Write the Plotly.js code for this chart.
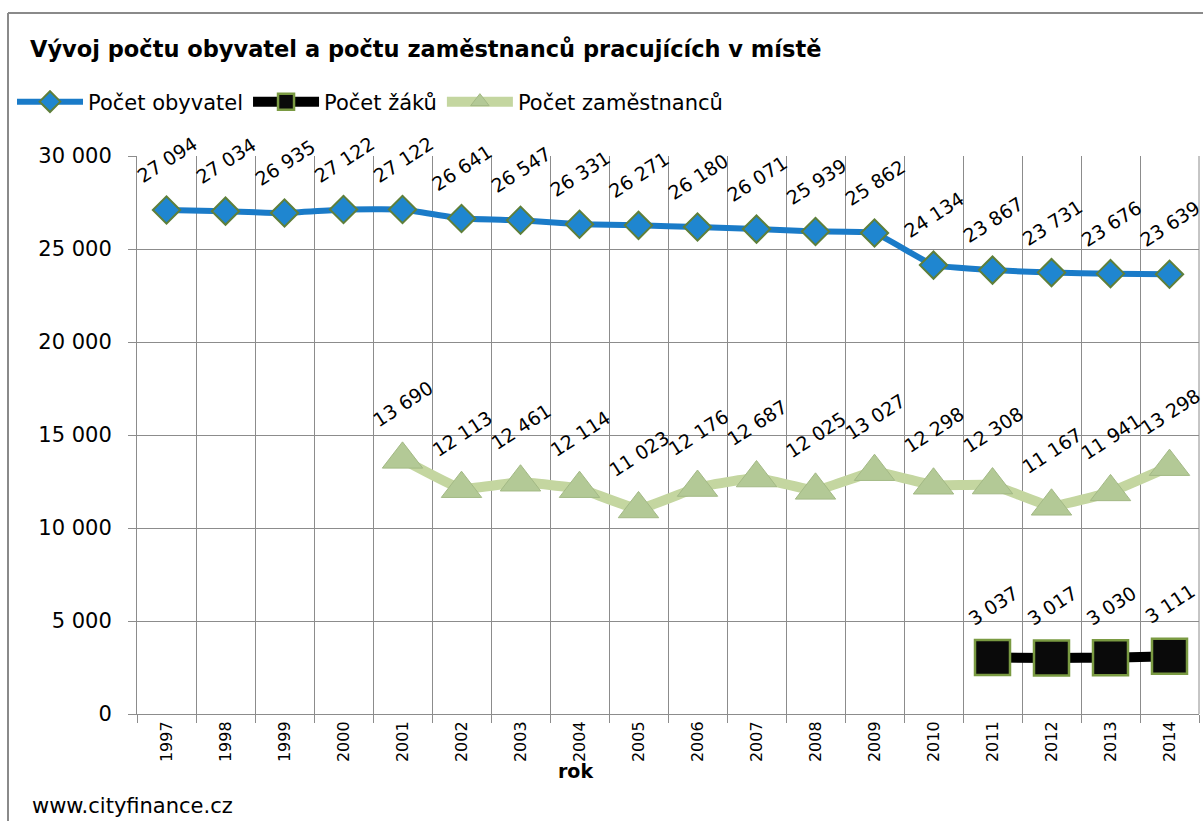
<!DOCTYPE html>
<html>
<head>
<meta charset="utf-8">
<script src="https://cdn.plot.ly/plotly-3.0.1.min.js"></script>
<style>html,body{margin:0;padding:0;background:#fff}#chart{width:1203px;height:821px}</style>
</head>
<body>
<div id="chart"></div>
<script>
const years = ['1997','1998','1999','2000','2001','2002','2003','2004','2005','2006','2007','2008','2009','2010','2011','2012','2013','2014'];
const obyvatel = [27094,27034,26935,27122,27122,26641,26547,26331,26271,26180,26071,25939,25862,24134,23867,23731,23676,23639];
const zaci = [null,null,null,null,null,null,null,null,null,null,null,null,null,null,3037,3017,3030,3111];
const zamestnanci = [null,null,null,null,13690,12113,12461,12114,11023,12176,12687,12025,13027,12298,12308,11167,11941,13298];
const seriesNames = ['Počet obyvatel','Počet žáků','Počet zaměstnanců'];
const chartTitle = 'Vývoj počtu obyvatel a počtu zaměstnanců pracujících v místě';
const xTitle = 'rok';
const sourceText = 'www.cityfinance.cz';

const FONT = '"DejaVu Sans", Lato, sans-serif';
const L = 137, R = 1199, T = 156, B = 714, W = 1203, H = 821;
const pw = R - L, ph = B - T;
const px = x => (x - L) / pw;
const py = y => (B - y) / ph;

function fmt(v){ return String(v).replace(/\B(?=(\d{3})+(?!\d))/g,' '); }

const traces = [
  {x: years, y: obyvatel, name: seriesNames[0], type:'scatter', mode:'lines+markers',
   line:{color:'#1a7bc8', width:6, shape:'spline', smoothing:0.3},
   marker:{symbol:'diamond', size:21, color:'#1f86d0', line:{color:'#5f7f3a', width:2}}},
  {x: years, y: zaci, name: seriesNames[1], type:'scatter', mode:'lines+markers',
   line:{color:'#000000', width:10, shape:'spline', smoothing:0.3},
   marker:{symbol:'square', size:35, color:'#0a0a0a', line:{color:'#7a9a42', width:2.5}}},
  {x: years, y: zamestnanci, name: seriesNames[2], type:'scatter', mode:'lines+markers',
   line:{color:'#c4d6a0', width:10, shape:'spline', smoothing:0.3},
   marker:{symbol:'triangle-up', size:35, color:'#b3c996', line:{color:'#a3b985', width:1}}}
];

const annotations = [];
function addLabels(arr, shift){
  arr.forEach((v,i)=>{
    if(v===null) return;
    annotations.push({x: i, y: v, xref:'x', yref:'y', text: fmt(v), showarrow:false,
      textangle:-33, yshift: shift, xanchor:'center', yanchor:'middle',
      font:{family:FONT, size:19, color:'#000'}});
  });
}
addLabels(obyvatel, 50);
addLabels(zamestnanci, 55);
addLabels(zaci, 52);

annotations.push({xref:'paper', yref:'paper', x: px(575), y: py(771), text:'<b>'+xTitle+'</b>', showarrow:false,
  xanchor:'center', yanchor:'middle', font:{family:FONT, size:19, color:'#000'}});
annotations.push({xref:'paper', yref:'paper', x: px(30), y: py(806), text: sourceText, showarrow:false,
  xanchor:'left', yanchor:'middle', font:{family:FONT, size:21, color:'#000'}});

const layout = {
  width: W, height: H,
  margin:{l:L, r:W-R, t:T, b:H-B, pad:0},
  paper_bgcolor:'#fff', plot_bgcolor:'#fff',
  separators:', ',
  showlegend:true,
  title:{text:'<b>'+chartTitle+'</b>', xref:'container', yref:'container', x:30/W, xanchor:'left', y:1-49/H, yanchor:'middle',
    font:{family:FONT, size:22.5, color:'#000'}},
  legend:{orientation:'h', x: px(12), xanchor:'left', y: py(102), yanchor:'middle', itemwidth:66,
    traceorder:'normal', font:{family:FONT, size:21, color:'#000'}, bgcolor:'rgba(0,0,0,0)', itemclick:false},
  xaxis:{type:'category', tickson:'boundaries', showgrid:true, gridcolor:'#8c8c8c', gridwidth:1,
    ticks:'outside', ticklen:8, tickcolor:'#8c8c8c', tickangle:-90, showline:true, linecolor:'#8c8c8c', linewidth:1,
    tickfont:{family:FONT, size:16, color:'#000'}, range:[-0.5,17.5], fixedrange:true, zeroline:false, mirror:false},
  yaxis:{range:[0,30000], dtick:5000, tick0:0, tickformat:',d', showgrid:true, gridcolor:'#8c8c8c', gridwidth:1,
    ticks:'outside', ticklen:8, tickcolor:'#8c8c8c', showline:true, linecolor:'#8c8c8c', linewidth:1,
    ticklabelstandoff:12,
    tickfont:{family:FONT, size:21, color:'#000'}, zeroline:false, fixedrange:true},
  shapes:[
    {type:'line', xref:'paper', yref:'paper', x0:px(8), x1:px(1210), y0:py(13), y1:py(13), line:{color:'#8a8a8a', width:2}},
    {type:'line', xref:'paper', yref:'paper', x0:px(8), x1:px(8), y0:py(13), y1:py(830), line:{color:'#8a8a8a', width:2}},
    {type:'line', xref:'paper', yref:'paper', x0:1, x1:1, y0:0, y1:1, line:{color:'#8c8c8c', width:1}}
  ],
  annotations: annotations
};

Plotly.newPlot('chart', traces, layout, {displayModeBar:false, staticPlot:true});
</script>
</body>
</html>
